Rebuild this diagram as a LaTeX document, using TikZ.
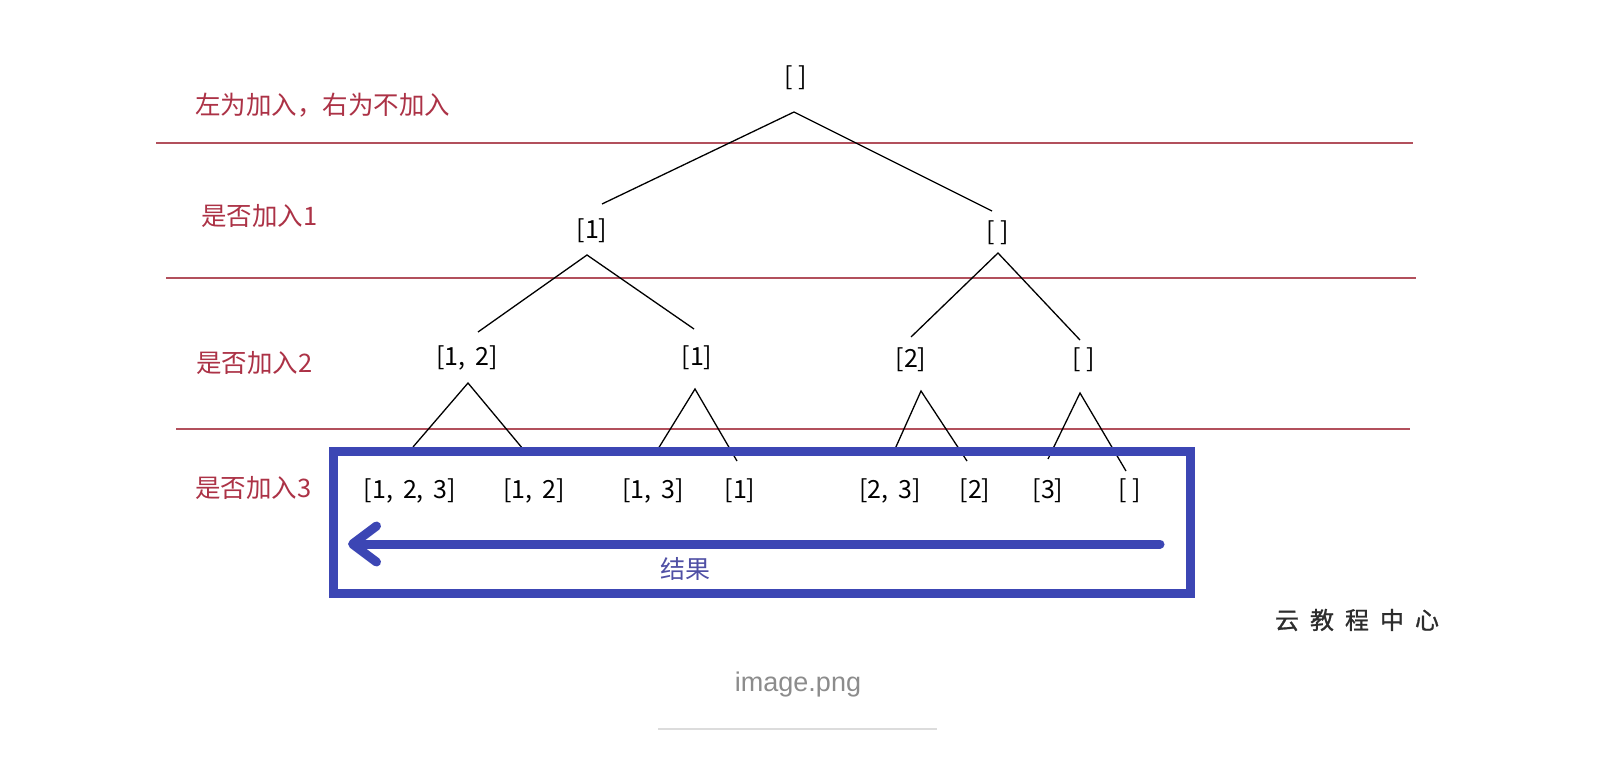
\documentclass[tikz,border=0pt]{standalone}
\usepackage{fontspec}
\setmainfont{Noto Sans CJK SC}
\newfontfamily\latfont{Liberation Sans}
\newfontfamily\logofont[FakeBold=1.0]{Noto Sans CJK SC}
\usetikzlibrary{arrows.meta}
\definecolor{redline}{RGB}{178,80,92}
\definecolor{redtext}{RGB}{172,50,70}
\definecolor{boxblue}{RGB}{60,70,180}
\definecolor{restext}{RGB}{80,80,165}
\definecolor{logotext}{RGB}{45,45,45}
\definecolor{captext}{RGB}{140,140,140}
\definecolor{capline}{RGB}{220,220,220}
\newcommand{\cs}{,\hspace{10pt}}
\begin{document}
\begin{tikzpicture}[x=1pt,y=-1pt,
  lvl/.style={text=redtext, font=\fontsize{25.5}{28}\selectfont, anchor=west, inner sep=0pt},
  setnode/.style={font=\fontsize{25}{28}\selectfont, inner sep=0pt},
  edge/.style={line width=1.3pt, black},
  sep/.style={draw=redline, line width=2pt}]
\useasboundingbox (0,0) rectangle (1600,762);
\fill[white] (0,0) rectangle (1600,762);

% level labels
\node[lvl] (t0) at (195,105) {左为加入，右为不加入};
\node[lvl] (t1) at (201,216) {是否加入1};
\node[lvl] (t2) at (196,363) {是否加入2};
\node[lvl] (t3) at (195,488) {是否加入3};

% separators
\draw[sep] (156,143) -- (1413,143);
\draw[sep] (166,278) -- (1416,278);
\draw[sep] (176,429) -- (1410,429);

% tree nodes
\node[setnode] (r) at (796,78) {[ ]};
\node[setnode] (a) at (592,231) {[1]};
\node[setnode] (b) at (998,233) {[ ]};
\node[setnode] (aa) at (467,358) {[1\cs 2]};
\node[setnode] (ab) at (697,358) {[1]};
\node[setnode] (ba) at (911,360) {[2]};
\node[setnode] (bb) at (1084,360) {[ ]};
\node[setnode] (aaa) at (410,491) {[1\cs 2\cs 3]};
\node[setnode] (aab) at (534,491) {[1\cs 2]};
\node[setnode] (aba) at (653,491) {[1\cs 3]};
\node[setnode] (abb) at (740,491) {[1]};
\node[setnode] (baa) at (890,491) {[2\cs 3]};
\node[setnode] (bab) at (975,491) {[2]};
\node[setnode] (bba) at (1048,491) {[3]};
\node[setnode] (bbb) at (1130,491) {[ ]};

% edge anchor coordinates
\coordinate (r-o) at (794,112);
\coordinate (a-i) at (602,204);
\coordinate (b-i) at (992,211);
\coordinate (a-o) at (587,255);
\coordinate (b-o) at (998,253);
\coordinate (aa-i) at (478,332);
\coordinate (ab-i) at (694,329);
\coordinate (ba-i) at (911,337);
\coordinate (bb-i) at (1080,340);
\coordinate (aa-o) at (468,383);
\coordinate (ab-o) at (695,389);
\coordinate (ba-o) at (921,391);
\coordinate (bb-o) at (1080,393);
\coordinate (aaa-i) at (413,447);
\coordinate (aab-i) at (523,449);
\coordinate (aba-i) at (658,449);
\coordinate (abb-i) at (737,461);
\coordinate (baa-i) at (895,449);
\coordinate (bab-i) at (967,461);
\coordinate (bba-i) at (1048,459);
\coordinate (bbb-i) at (1126,471);

\draw[edge] (a-i) -- (r-o) -- (b-i);
\draw[edge] (aa-i) -- (a-o) -- (ab-i);
\draw[edge] (ba-i) -- (b-o) -- (bb-i);
\draw[edge] (aaa-i) -- (aa-o) -- (aab-i);
\draw[edge] (aba-i) -- (ab-o) -- (abb-i);
\draw[edge] (baa-i) -- (ba-o) -- (bab-i);
\draw[edge] (bba-i) -- (bb-o) -- (bbb-i);

% result box
\node[draw=boxblue, line width=9pt, minimum width=857pt, minimum height=142pt, inner sep=0pt] (box) at (761.5,522) {};
\coordinate (as) at (1160,544);
\coordinate (ae) at (348,544);
\draw[boxblue, line width=9pt, line cap=round, -{Straight Barb[round,length=24pt,width=36pt]}] (as) -- (ae);
\node[text=restext, font=\fontsize{25}{28}\selectfont] (res) at (685,569) {结果};

% watermark
\node[text=logotext, font=\logofont\fontsize{24}{26}\selectfont] (logo) at (1357,620) {云\hspace{11pt}教\hspace{11pt}程\hspace{11pt}中\hspace{11pt}心};

% caption
\node[text=captext, font=\latfont\fontsize{27}{30}\selectfont] (cap) at (798,685) {image.png};
\coordinate (cl1) at (658,729);
\coordinate (cl2) at (937,729);
\draw[capline, line width=2pt] (cl1) -- (cl2);
\end{tikzpicture}
\end{document}
